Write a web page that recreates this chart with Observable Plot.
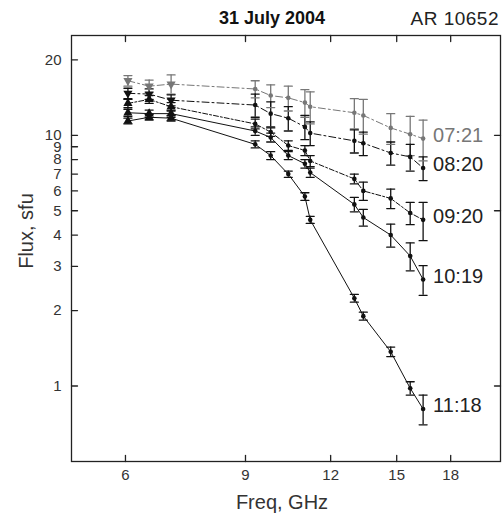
<!DOCTYPE html>
<html><head><meta charset="utf-8">
<script src="https://cdn.jsdelivr.net/npm/d3@7"></script>
<script src="https://cdn.jsdelivr.net/npm/@observablehq/plot@0.6"></script>
<style>
body{margin:0;background:#fff;font-family:"Liberation Sans",Arial,sans-serif;}
#wrap{position:relative;width:504px;height:517px;overflow:hidden;}
.t{position:absolute;white-space:nowrap;line-height:1;}
</style></head><body><div id="wrap"></div>
<script>
// ---- data ----
const freqs = [6.05, 6.5, 7.0, 9.3, 9.8, 10.4, 11.0, 11.2, 13.0, 13.4, 14.7, 15.7, 16.4];
const times = ["07:21", "08:20", "09:20", "10:19", "11:18"];
const flux0721 = [16.5, 15.7, 16.0, 15.3, 14.4, 14.1, 13.5, 13.0, 12.3, 12.0, 10.7, 10.1, 9.7];
const flux0820 = [14.7, 14.6, 13.8, 13.2, 12.2, 11.7, 10.8, 10.2, 9.5, 9.3, 8.5, 8.2, 7.4];
const flux0920 = [13.4, 13.9, 13.0, 11.1, 10.3, 9.1, 8.7, 7.9, 6.7, 6.0, 5.6, 4.9, 4.6];
const flux1019 = [12.3, 12.2, 12.2, 10.4, 9.8, 8.3, 7.7, 7.1, 5.3, 4.7, 4.0, 3.3, 2.66];
const flux1118 = [11.4, 11.8, 11.7, 9.2, 8.3, 7.0, 5.7, 4.6, 2.24, 1.90, 1.37, 0.98, 0.81];
const err0721 = [0.8, 0.9, 1.4, 1.2, 1.5, 1.6, 1.7, 1.9, 1.7, 1.9, 1.5, 1.8, 1.8];
const err0820 = [0.7, 0.7, 0.7, 1.4, 1.4, 1.3, 1.2, 1.1, 1.0, 1.0, 0.9, 1.0, 0.8];
const err0920 = [0.5, 0.5, 0.5, 0.5, 0.4, 0.4, 0.4, 0.4, 0.3, 0.5, 0.5, 0.5, 0.8];
const err1019 = [0.4, 0.4, 0.4, 0.4, 0.4, 0.3, 0.3, 0.3, 0.35, 0.36, 0.42, 0.42, 0.36];
const err1118 = [0.3, 0.3, 0.3, 0.3, 0.3, 0.2, 0.2, 0.15, 0.08, 0.07, 0.06, 0.06, 0.11];
const xTicks = [6, 9, 12, 15, 18];
const yTicks = [1, 2, 3, 4, 5, 6, 7, 8, 9, 10, 20];
const yRightTicks = [1, 5, 10];

// ---- build table ----
const fluxes = [flux0721, flux0820, flux0920, flux1019, flux1118];
const errs = [err0721, err0820, err0920, err1019, err1118];
const rows = [];
times.forEach((t, i) => freqs.forEach((f, j) => rows.push({
  time: t, freq: f, flux: fluxes[i][j], lo: fluxes[i][j] - errs[i][j], hi: fluxes[i][j] + errs[i][j], j
})));
const colorOf = t => t === "07:21" ? "#777" : "#111";
const dashOf = {"07:21": "7,3,2,3", "08:20": "7,3,2,3", "09:20": "5,2,2,2", "10:19": null, "11:18": null};
const downSeries = new Set(["07:21", "08:20"]);
const last = rows.filter(d => d.j === freqs.length - 1);

const lineShape = {draw(ctx, l) { ctx.moveTo(0, 0); ctx.lineTo(0, -l); }};

const marks = [];
times.forEach(t => {
  marks.push(Plot.line(rows.filter(d => d.time === t), {
    x: "freq", y: "flux", stroke: colorOf(t), strokeWidth: 1, strokeDasharray: dashOf[t]
  }));
});
marks.push(
  Plot.ruleX(rows, {x: "freq", y1: "lo", y2: "hi", stroke: d => colorOf(d.time), strokeWidth: 1.3}),
  Plot.vector(rows, {x: "freq", y: "lo", rotate: 90, length: 8, anchor: "middle", shape: lineShape, stroke: d => colorOf(d.time), strokeWidth: 1.3}),
  Plot.vector(rows, {x: "freq", y: "hi", rotate: 90, length: 8, anchor: "middle", shape: lineShape, stroke: d => colorOf(d.time), strokeWidth: 1.3}),
  Plot.dot(rows.filter(d => d.j > 2), {x: "freq", y: "flux", r: 2.3, fill: d => colorOf(d.time), stroke: "none"}),
  Plot.dot(rows.filter(d => d.j <= 2 && !downSeries.has(d.time)), {x: "freq", y: "flux", symbol: "triangle", r: 3.4, fill: d => colorOf(d.time), stroke: "none"}),
  Plot.dot(rows.filter(d => d.j <= 2 && downSeries.has(d.time)), {x: "freq", y: "flux", symbol: "triangle", rotate: 180, r: 3.4, fill: d => colorOf(d.time), stroke: "none"}),
  Plot.text(last, {x: "freq", y: "flux", text: "time", dx: 10, dy: -3, textAnchor: "start", fontSize: 20, fill: d => d.time === "07:21" ? "#777" : "#222"}),
  // frame & ticks
  Plot.frame({stroke: "#222", strokeWidth: 1.3}),
  Plot.vector(yTicks, {y: d => d, frameAnchor: "left", rotate: 90, length: 6, anchor: "start", shape: lineShape, stroke: "#222", strokeWidth: 1.3}),
  Plot.vector(yRightTicks, {y: d => d, frameAnchor: "right", rotate: -90, length: 6, anchor: "start", shape: lineShape, stroke: "#222", strokeWidth: 1.3}),
  Plot.vector(xTicks, {x: d => d, frameAnchor: "bottom", rotate: 0, length: 6, anchor: "start", shape: lineShape, stroke: "#222", strokeWidth: 1.3}),
  Plot.vector(xTicks, {x: d => d, frameAnchor: "top", rotate: 180, length: 6, anchor: "start", shape: lineShape, stroke: "#222", strokeWidth: 1.3}),
  Plot.text(yTicks, {y: d => d, text: d => String(d), frameAnchor: "left", dx: -10, textAnchor: "end", fontSize: 15, fill: "#333"}),
  Plot.text(xTicks, {x: d => d, text: d => String(d), frameAnchor: "bottom", dy: 18, fontSize: 15, fill: "#333"})
);

const chart = Plot.plot({
  width: 504, height: 517,
  marginTop: 35, marginLeft: 71, marginRight: 4, marginBottom: 56,
  style: {fontFamily: "Liberation Sans, Arial, sans-serif", background: "#fff"},
  x: {type: "log", domain: [5, 21.3], axis: null},
  y: {type: "log", domain: [0.5, 25], axis: null},
  marks
});
const wrap = document.getElementById("wrap");
wrap.appendChild(chart);

function addText(txt, css) {
  const d = document.createElement("div");
  d.className = "t";
  d.textContent = txt;
  Object.assign(d.style, css);
  wrap.appendChild(d);
}
addText("31 July 2004", {left: "272px", top: "9px", transform: "translateX(-50%)", fontSize: "18px", fontWeight: "bold", color: "#111"});
addText("AR 10652", {right: "5px", top: "9px", fontSize: "19px", color: "#222", letterSpacing: "0.5px"});
addText("Freq, GHz", {left: "282px", top: "492px", transform: "translateX(-50%)", fontSize: "20px", color: "#333"});
addText("Flux, sfu", {left: "26px", top: "231px", transform: "translate(-50%,-50%) rotate(-90deg)", fontSize: "20px", color: "#333"});
</script></body></html>
